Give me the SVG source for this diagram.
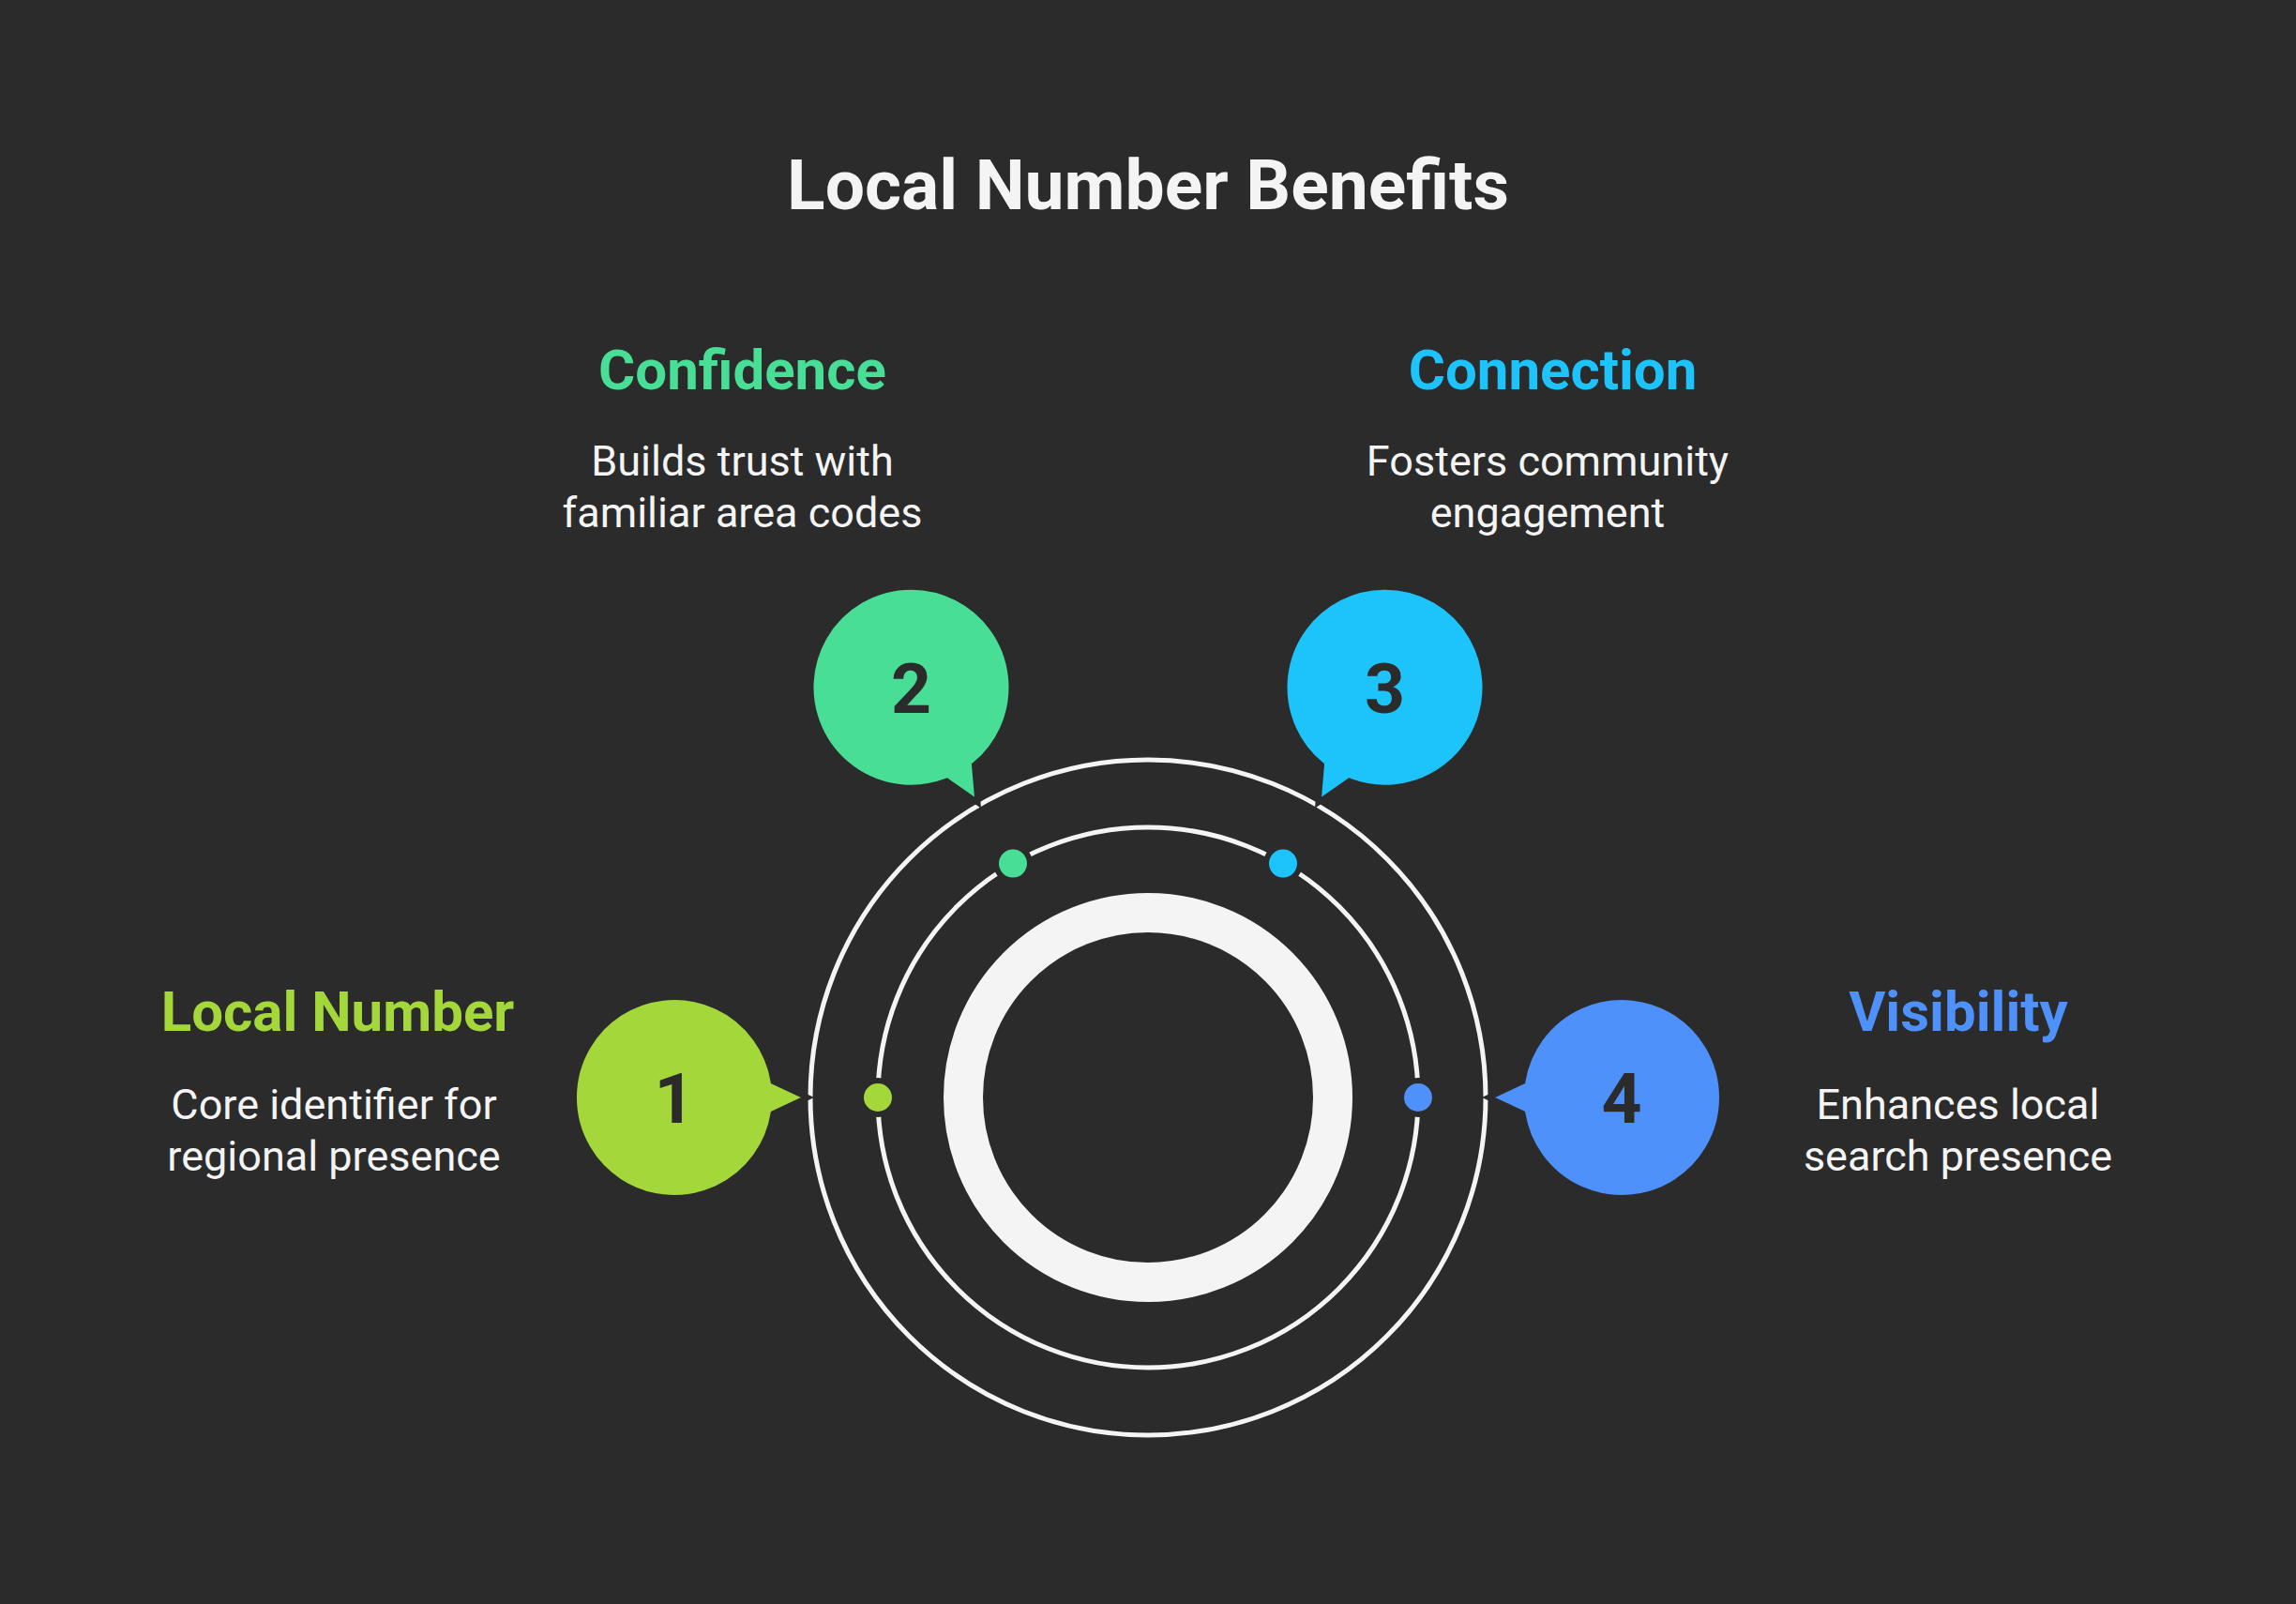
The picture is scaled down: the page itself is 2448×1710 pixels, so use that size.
<svg xmlns="http://www.w3.org/2000/svg" width="2448" height="1710" viewBox="0 0 2448 1710">
<defs>
<style>
.title{font-family:Roboto,"Liberation Sans",sans-serif;font-weight:700;font-size:75px;fill:#f4f4f4;text-anchor:middle}
.head{font-family:Roboto,"Liberation Sans",sans-serif;font-weight:700;font-size:60px;text-anchor:middle}
.desc{font-family:Roboto,"Liberation Sans",sans-serif;font-weight:400;font-size:45px;fill:#f4f4f4;text-anchor:middle}
.num{font-family:Roboto,"Liberation Sans",sans-serif;font-weight:700;font-size:75px;fill:#2b2b2b;text-anchor:middle}
.ring{fill:none;stroke:#f4f4f4}
.bubble{stroke:#2b2b2b;stroke-width:6}
.dot{stroke:#2b2b2b;stroke-width:6}
</style>
<path id="bub" d="M 105.6,-17 L 142,0 L 105.6,17 A 107 107 0 1 1 105.6,-17 Z"/>
</defs>
<rect width="2448" height="1710" fill="#2b2b2b"/>
<text class="title" x="1224" y="223">Local Number Benefits</text>

<g id="rings">
<circle class="ring" cx="1224" cy="1170" r="360" stroke-width="5"/>
<circle class="ring" cx="1224" cy="1170" r="288" stroke-width="5"/>
<circle class="ring" cx="1224" cy="1170" r="197" stroke-width="42"/>
</g>

<g id="connectors">
<circle class="dot" cx="936" cy="1170" r="18" fill="#a4d83a"/>
<circle class="dot" cx="1080" cy="920.6" r="18" fill="#48de95"/>
<circle class="dot" cx="1368" cy="920.6" r="18" fill="#1dc4fb"/>
<circle class="dot" cx="1512" cy="1170" r="18" fill="#4e91fb"/>
</g>

<g id="node1">
<use href="#bub" class="bubble" fill="#a4d83a" transform="translate(719,1170)"/>
<text class="num" x="719" y="1197">1</text>
<text class="head" x="360" y="1099" fill="#a4d83a">Local Number</text>
<text class="desc" x="356" y="1193">Core identifier for</text>
<text class="desc" x="356" y="1248">regional presence</text>
</g>

<g id="node2">
<use href="#bub" class="bubble" fill="#48de95" transform="translate(971.5,732.7) rotate(60)"/>
<text class="num" x="971.5" y="759.5">2</text>
<text class="head" x="791.5" y="415" fill="#48de95">Confidence</text>
<text class="desc" x="791.5" y="507">Builds trust with</text>
<text class="desc" x="791.5" y="562">familiar area codes</text>
</g>

<g id="node3">
<use href="#bub" class="bubble" fill="#1dc4fb" transform="translate(1476.5,732.7) rotate(120)"/>
<text class="num" x="1476.5" y="759.5">3</text>
<text class="head" x="1655.5" y="415" fill="#1dc4fb">Connection</text>
<text class="desc" x="1650" y="507">Fosters community</text>
<text class="desc" x="1650" y="562">engagement</text>
</g>

<g id="node4">
<use href="#bub" class="bubble" fill="#4e91fb" transform="translate(1729,1170) rotate(180)"/>
<text class="num" x="1729" y="1197">4</text>
<text class="head" x="2088" y="1099" fill="#4e91fb">Visibility</text>
<text class="desc" x="2087.5" y="1193">Enhances local</text>
<text class="desc" x="2087.5" y="1248">search presence</text>
</g>
</svg>
